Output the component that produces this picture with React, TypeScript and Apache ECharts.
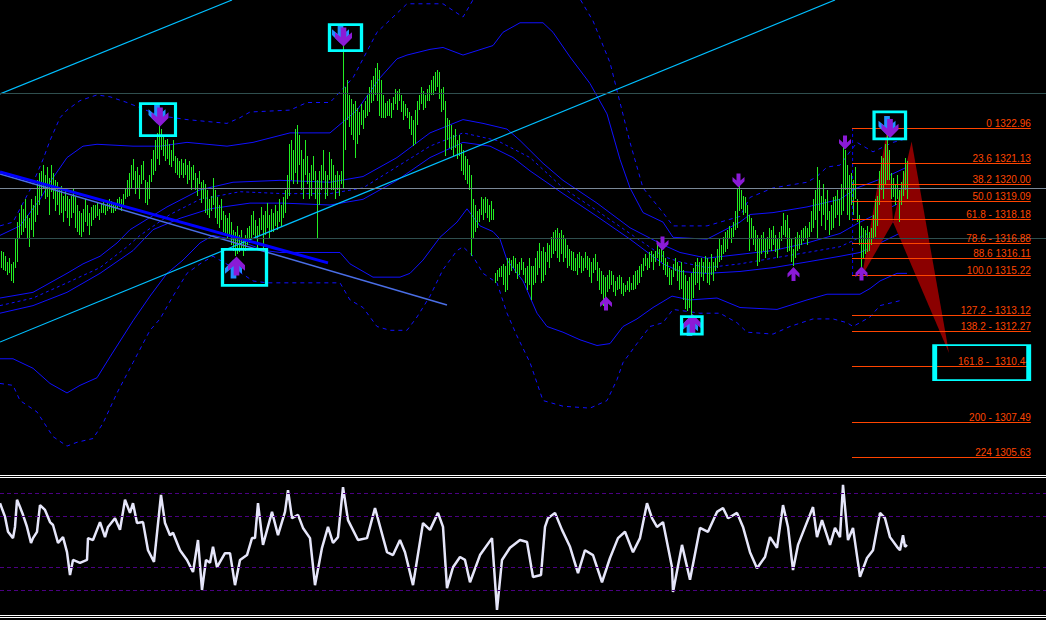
import React, { useEffect, useRef } from "react";
import * as echarts from "echarts";

// ---------- price bars (high / low per bar) ----------
const HIGH: number[] = [
  1316.5,1316.4,1316.2,1315.9,1316.1,1315.8,1315.9,1317.1,1318.0,1318.5,
  1318.9,1318.7,1319.2,1318.4,1318.2,1319.2,1318.9,1319.4,1320.2,1320.6,
  1320.7,1321.0,1320.5,1320.9,1320.3,1321.0,1320.6,1320.2,1320.1,1319.7,
  1319.9,1319.4,1319.8,1319.4,1319.2,1319.4,1319.8,1319.3,1318.9,1318.6,
  1318.5,1318.7,1319.2,1318.9,1318.5,1318.8,1318.9,1318.9,1319.0,1318.7,
  1319.0,1319.1,1318.9,1319.0,1319.2,1319.1,1318.9,1319.0,1319.2,1319.3,
  1319.2,1319.5,1319.8,1320.2,1320.6,1321.0,1321.3,1320.7,1320.9,1320.5,
  1321.0,1321.2,1320.2,1320.1,1320.5,1321.3,1321.8,1322.3,1322.7,1323.3,
  1322.9,1322.6,1322.3,1322.4,1322.1,1321.8,1322.3,1321.5,1321.4,1321.2,
  1321.3,1321.1,1321.3,1321.0,1321.2,1320.9,1321.0,1320.6,1320.3,1320.7,
  1320.1,1320.2,1320.0,1319.7,1319.2,1319.4,1320.3,1319.7,1319.3,1318.9,
  1319.2,1318.6,1318.4,1318.2,1318.5,1318.0,1317.6,1317.5,1317.8,1317.3,
  1317.6,1317.1,1317.3,1317.7,1317.8,1318.4,1318.6,1318.1,1317.8,1318.2,
  1318.8,1318.4,1318.6,1319.0,1318.4,1318.7,1318.5,1318.9,1318.6,1319.2,
  1318.9,1319.3,1319.7,1320.5,1322.1,1322.3,1321.8,1322.9,1323.1,1322.6,
  1321.8,1321.3,1322.3,1321.5,1320.6,1321.0,1321.5,1320.7,1320.2,1320.7,
  1321.0,1321.8,1320.7,1320.5,1321.7,1321.3,1321.0,1320.5,1320.7,1320.5,
  1320.7,1327.5,1325.1,1325.5,1324.7,1324.5,1324.2,1324.4,1324.0,1323.8,
  1324.2,1323.9,1324.4,1324.7,1325.1,1325.5,1325.7,1326.1,1326.4,1326.0,
  1325.5,1324.7,1324.3,1324.4,1324.5,1324.3,1324.6,1325.0,1324.9,1325.0,
  1324.7,1324.4,1324.2,1324.0,1323.8,1323.6,1323.4,1323.9,1324.4,1324.7,
  1325.1,1324.9,1324.7,1325.0,1325.2,1325.5,1325.7,1325.9,1326.0,1325.9,
  1325.0,1325.1,1324.4,1323.5,1323.4,1323.1,1322.6,1322.9,1322.3,1322.6,
  1322.1,1321.8,1321.5,1321.3,1321.0,1320.5,1319.2,1318.9,1318.6,1318.7,
  1319.3,1319.2,1319.3,1319.2,1318.9,1319.1,1318.7,1315.3,1315.5,1315.6,
  1315.7,1315.8,1315.7,1316.1,1316.1,1316.0,1316.2,1316.1,1315.8,1315.9,
  1316.1,1315.9,1315.6,1315.7,1316.1,1315.7,1315.7,1316.1,1316.5,1316.9,
  1316.5,1316.7,1316.4,1316.9,1316.8,1317.2,1317.5,1317.6,1317.7,1317.4,
  1317.6,1317.3,1317.1,1316.8,1316.6,1316.5,1316.4,1316.1,1316.3,1316.4,
  1316.2,1316.1,1316.4,1316.2,1316.1,1315.9,1316.1,1316.3,1315.9,1315.6,
  1315.4,1315.2,1315.1,1315.2,1315.5,1315.4,1315.2,1314.9,1315.1,1315.2,
  1315.1,1314.8,1314.7,1314.9,1315.1,1314.8,1315.2,1315.4,1315.5,1315.7,
  1315.8,1316.1,1316.3,1316.1,1316.4,1316.5,1316.3,1316.5,1316.8,1316.6,
  1316.7,1316.5,1316.1,1315.9,1315.6,1315.5,1315.8,1316.1,1315.9,1315.7,
  1315.9,1315.5,1315.2,1314.9,1315.1,1315.3,1315.6,1315.9,1316.1,1315.9,
  1316.1,1315.9,1316.2,1316.1,1315.9,1316.3,1315.9,1316.1,1316.6,1317.1,
  1316.8,1317.2,1317.5,1317.6,1317.8,1317.7,1318.0,1318.6,1319.8,1320.0,
  1319.7,1319.4,1319.3,1318.9,1318.4,1318.2,1317.8,1317.6,1317.3,1317.1,
  1317.3,1317.5,1317.1,1317.2,1317.7,1317.6,1317.8,1317.3,1317.1,1317.5,
  1317.8,1318.5,1318.1,1318.4,1317.7,1317.1,1316.6,1317.2,1317.5,1317.3,
  1317.6,1317.7,1317.8,1317.7,1318.0,1318.6,1319.2,1319.7,1320.9,1320.2,
  1319.4,1320.0,1319.2,1319.7,1318.6,1318.9,1319.3,1319.4,1319.7,1319.2,
  1320.0,1322.1,1321.8,1321.0,1320.5,1320.6,1320.2,1320.9,1319.2,1318.4,
  1317.8,1317.7,1317.6,1317.8,1317.5,1317.7,1318.4,1319.2,1319.4,1320.7,
  1321.5,1321.4,1322.1,1322.9,1321.8,1320.6,1320.3,1320.0,1320.5,1319.7,
  1320.1,1320.7,1321.4,1321.2,
];
const LOW: number[] = [
  1315.6,1315.5,1315.4,1315.2,1315.3,1314.9,1314.8,1315.6,1315.9,1317.1,
  1317.3,1317.5,1317.7,1317.1,1316.7,1317.6,1317.2,1318.0,1318.4,1318.9,
  1319.4,1319.8,1319.2,1319.3,1318.4,1319.6,1319.2,1318.6,1318.9,1318.4,
  1318.5,1318.0,1318.6,1318.2,1317.8,1318.2,1318.5,1317.7,1317.5,1317.3,
  1317.2,1317.5,1318.0,1317.8,1317.3,1317.8,1318.1,1318.2,1318.3,1318.1,
  1318.5,1318.5,1318.4,1318.6,1318.7,1318.5,1318.5,1318.6,1318.7,1318.8,
  1318.6,1318.9,1319.2,1319.3,1319.4,1319.8,1320.2,1319.5,1319.8,1319.2,
  1320.0,1320.2,1319.0,1318.9,1319.2,1320.1,1320.5,1320.7,1321.3,1321.0,
  1321.8,1321.5,1321.2,1321.3,1321.0,1320.9,1321.2,1320.6,1320.5,1320.3,
  1320.5,1320.3,1320.5,1320.0,1320.2,1319.7,1320.2,1319.7,1319.4,1320.0,
  1319.0,1319.2,1318.5,1318.4,1318.2,1318.6,1318.9,1318.2,1317.9,1317.7,
  1318.1,1317.5,1317.3,1317.1,1317.3,1316.8,1316.5,1316.2,1316.3,1316.4,
  1316.6,1316.2,1316.5,1316.8,1316.9,1317.1,1317.3,1317.1,1316.6,1317.3,
  1317.6,1316.4,1317.3,1317.7,1317.1,1317.5,1317.5,1317.8,1317.6,1318.0,
  1317.8,1318.2,1318.5,1319.2,1319.4,1320.2,1320.0,1320.6,1320.0,1321.0,
  1319.7,1319.2,1320.5,1320.0,1319.2,1319.4,1320.2,1319.2,1317.1,1318.9,
  1319.7,1320.2,1319.2,1319.4,1320.2,1319.7,1319.7,1319.2,1319.7,1319.4,
  1320.0,1319.8,1321.8,1323.4,1323.0,1322.6,1322.3,1321.4,1322.1,1322.6,
  1323.1,1322.9,1323.5,1323.6,1323.8,1324.3,1324.4,1324.7,1324.4,1323.6,
  1323.5,1323.5,1323.5,1323.6,1323.6,1323.5,1323.9,1324.2,1323.9,1324.4,
  1323.8,1323.4,1323.6,1323.5,1322.9,1322.6,1322.0,1322.1,1323.1,1323.9,
  1324.2,1323.9,1324.0,1324.4,1324.4,1324.7,1324.7,1324.9,1325.1,1324.5,
  1323.8,1323.9,1321.5,1322.3,1321.9,1321.8,1321.5,1321.9,1321.3,1321.5,
  1320.7,1320.5,1320.2,1320.0,1319.7,1316.2,1317.1,1317.5,1317.7,1318.0,
  1318.4,1318.1,1318.5,1318.2,1318.0,1318.1,1318.1,1314.8,1314.9,1315.1,
  1315.1,1314.7,1314.3,1314.4,1315.2,1315.4,1315.6,1315.3,1315.0,1315.2,
  1315.5,1315.2,1314.8,1314.4,1314.7,1313.9,1314.7,1314.8,1315.2,1315.6,
  1314.8,1314.9,1315.2,1315.9,1315.6,1316.1,1316.3,1316.5,1316.1,1315.9,
  1316.3,1315.9,1316.1,1315.6,1315.7,1315.5,1315.4,1315.4,1315.2,1315.6,
  1315.3,1315.4,1315.6,1315.5,1315.1,1314.8,1315.3,1315.5,1314.9,1314.4,
  1314.2,1313.6,1313.9,1314.3,1314.5,1314.7,1314.3,1314.1,1314.4,1314.5,
  1314.2,1314.1,1314.3,1314.4,1314.3,1314.4,1314.4,1314.5,1314.7,1314.8,
  1315.1,1315.4,1315.7,1315.5,1315.6,1315.9,1315.5,1315.9,1316.1,1315.7,
  1315.9,1315.5,1315.2,1315.1,1314.7,1314.7,1315.1,1315.4,1314.9,1314.4,
  1314.5,1313.9,1313.4,1313.3,1313.5,1312.8,1314.0,1314.7,1314.8,1314.4,
  1315.1,1314.9,1315.3,1314.8,1314.7,1315.2,1314.9,1315.4,1315.6,1315.9,
  1316.0,1316.3,1316.4,1316.6,1317.1,1316.9,1317.2,1317.6,1317.7,1318.6,
  1318.7,1318.4,1318.5,1318.0,1316.5,1317.1,1316.8,1316.5,1315.7,1315.9,
  1316.3,1316.5,1316.1,1316.3,1316.6,1316.5,1316.8,1316.4,1316.1,1316.6,
  1317.0,1317.3,1317.2,1316.4,1316.5,1315.9,1315.7,1316.1,1316.5,1316.6,
  1316.8,1317.0,1317.1,1316.8,1317.2,1317.5,1317.7,1318.1,1317.1,1318.6,
  1317.8,1318.4,1317.6,1318.1,1317.3,1317.6,1317.7,1318.2,1318.4,1317.8,
  1318.4,1318.6,1319.7,1318.4,1318.1,1318.9,1318.4,1319.2,1318.0,1316.8,
  1315.2,1316.1,1316.3,1316.4,1316.5,1316.8,1317.1,1317.2,1317.8,1318.9,
  1319.7,1319.2,1320.0,1320.2,1320.2,1319.2,1319.3,1318.9,1319.2,1318.0,
  1318.9,1319.4,1319.7,1319.2,
];

// ---------- envelope / band lines: [bar index, price] ----------
const BAND_OUTER_UP: number[][] = [[0,1317.8],[6.5,1318.0],[15,1319.7],[21.5,1321.3],[25,1322.3],[30,1323.5],[33.5,1323.9],[40,1324.4],[48.5,1324.7],[55,1324.6],[63.5,1324.3],[80,1323.6],[93.5,1323.4],[113.5,1323.2],[120,1323.5],[125,1323.8],[145,1323.9],[153.5,1324.3],[165,1324.3],[176.5,1325.6],[188.5,1328.0],[198.5,1329.0],[203.5,1329.5],[221.5,1329.5],[231.5,1328.8],[242.5,1330.8],[270,1331.8],[287.5,1330.2],[296.5,1328.6],[305,1326.4],[310,1324.3],[315,1322.2],[321.5,1319.8],[331.5,1318.5],[336.5,1317.8],[353.5,1317.8],[370,1318.3],[375,1319.3],[386.5,1319.8],[403.5,1320.1],[408.5,1320.4],[413.5,1320.9],[420,1321.0],[428.5,1322.2],[436.5,1321.7],[446.5,1322.2],[453.5,1322.4]];
const BAND_OUTER_DN: number[][] = [[0,1309.5],[6.5,1309.4],[10,1308.6],[18.5,1308.0],[26.5,1306.7],[33.5,1306.2],[38.5,1306.4],[46.5,1306.6],[51.5,1307.4],[58.5,1309.0],[66.5,1310.6],[75,1312.3],[80,1312.9],[86.5,1314.1],[93.5,1315.3],[100,1315.8],[106.5,1316.2],[116.5,1315.6],[126.5,1314.9],[133.5,1314.8],[150,1314.8],[170,1314.8],[175,1313.9],[181.5,1313.5],[188.5,1312.5],[195,1312.3],[203.5,1312.3],[208.5,1313.0],[215,1314.1],[221.5,1315.5],[228.5,1316.5],[231.5,1316.7],[236.5,1316.2],[241.5,1315.3],[248.5,1314.8],[253.5,1313.2],[258.5,1312.0],[265,1310.6],[271.5,1308.6],[281.5,1308.3],[295,1308.2],[303.5,1308.6],[308.5,1309.7],[311.5,1310.6],[318.5,1311.6],[325,1312.5],[331.5,1312.7],[336.5,1313.4],[350,1313.2],[360,1313.2],[368.5,1312.7],[373.5,1312.2],[386.5,1312.1],[395,1312.5],[406.5,1312.9],[416.5,1312.9],[423.5,1312.7],[426.5,1312.5],[435,1313.0],[440,1313.6],[451.5,1313.9]];
const BAND_MID_UP: number[][] = [[0,1317.3],[10,1317.8],[20,1319.2],[25,1320.1],[33.5,1321.4],[41.5,1322.0],[48.5,1322.1],[66.5,1322.0],[80,1322.0],[93.5,1322.2],[113.5,1322.0],[126.5,1322.2],[145,1322.7],[165,1322.7],[178.5,1323.9],[190,1325.6],[198.5,1326.6],[203.5,1326.8],[215,1327.1],[221.5,1327.2],[231.5,1326.8],[246.5,1327.3],[251.5,1328.0],[260,1328.5],[271.5,1328.5],[276.5,1328.0],[285,1326.7],[295,1325.3],[303.5,1323.7],[310,1321.3],[315,1319.8],[321.5,1318.5],[331.5,1318.0],[336.5,1317.2],[353.5,1317.1],[370,1318.0],[375,1318.4],[386.5,1318.5],[403.5,1318.8],[420,1319.2],[428.5,1319.8],[443.5,1320.4],[453.5,1320.9]];
const BAND_MID_DN: number[][] = [[0,1310.8],[6.5,1310.8],[16.5,1310.3],[25,1309.5],[33.5,1309.0],[40,1309.4],[48.5,1309.8],[55,1310.9],[66.5,1312.8],[75,1314.1],[83.5,1315.3],[91.5,1316.0],[100,1316.9],[106.5,1317.3],[120,1317.0],[132.5,1316.5],[140,1316.4],[170,1316.4],[175,1315.8],[186.5,1315.1],[200,1315.1],[205,1315.3],[211.5,1316.0],[220,1317.2],[228.5,1318.0],[233.5,1318.7],[240,1317.8],[246.5,1317.5],[250,1317.1],[253.5,1316.0],[261.5,1314.9],[268.5,1313.2],[273.5,1312.5],[281.5,1312.2],[290,1311.8],[298.5,1311.5],[305,1311.6],[311.5,1312.5],[318.5,1312.9],[326.5,1313.5],[336,1314.1],[345,1313.9],[358.5,1314.0],[370,1313.5],[388.5,1313.4],[403.5,1313.9],[413.5,1314.2],[430,1314.2],[435,1314.5],[440,1314.9],[448.5,1315.3],[453.5,1315.3]];
const BAND_IN_UP: number[][] = [[0,1314.0],[16.5,1314.3],[25,1314.8],[33.5,1315.3],[41.5,1315.8],[50,1316.2],[58.5,1316.9],[65,1317.6],[83.5,1318.8],[100,1319.7],[116.5,1320.1],[140,1320.2],[165,1320.1],[181.5,1320.4],[198.5,1321.4],[215,1322.7],[231.5,1323.4],[241.5,1323.2],[253.5,1322.9],[260,1322.3],[271.5,1321.1],[281.5,1320.2],[298.5,1319.0],[315,1317.7],[331.5,1316.8],[340,1316.4],[353.5,1316.1],[370,1316.3],[386.5,1316.5],[403.5,1316.9],[420,1317.4],[430,1318.0],[440,1318.5],[453.5,1319.2]];
const BAND_IN_MID: number[][] = [[0,1313.6],[16.5,1314.0],[33.5,1314.8],[50,1315.6],[63.5,1316.7],[70,1317.3],[85,1318.4],[100,1319.2],[120,1319.6],[141.5,1319.5],[165,1319.5],[181.5,1319.8],[215,1322.0],[231.5,1322.7],[248.5,1322.3],[265,1321.4],[281.5,1319.8],[298.5,1318.6],[315,1317.4],[331.5,1316.2],[340,1315.9],[353.5,1315.6],[370,1315.8],[386.5,1316.1],[403.5,1316.4],[420,1316.7],[430,1317.2],[440,1317.7],[453.5,1318.3]];
const BAND_IN_DN: number[][] = [[0,1313.2],[16.5,1313.6],[33.5,1314.3],[50,1315.3],[66.5,1316.5],[76.5,1317.6],[90,1318.2],[105,1318.7],[125,1319.0],[141.5,1319.0],[165,1318.9],[181.5,1319.2],[198.5,1320.2],[215,1321.4],[231.5,1322.2],[245,1322.0],[256.5,1321.4],[265,1320.7],[281.5,1319.5],[298.5,1318.3],[315,1317.1],[331.5,1315.8],[340,1315.4],[353.5,1315.3],[370,1315.4],[386.5,1315.6],[403.5,1315.9],[420,1316.2],[430,1316.4],[440,1316.9],[453.5,1317.6]];

// ---------- drawn objects ----------
const CHANNEL_UPPER: number[][] = [[0, 1324.75], [116, 1329.7]];
const CHANNEL_LOWER: number[][] = [[0, 1311.68], [417.5, 1329.7]];
const TREND_THICK: number[][] = [[0, 1320.64], [164, 1315.85]];
const TREND_THIN: number[][] = [[0, 1320.54], [223.5, 1313.63]];
const H_LEVELS: number[] = [1324.8, 1319.8, 1317.16];
const H_COLORS: string[] = ["#2f4f4f", "#7a8898", "#2f4f4f"];

const FIB_RATIO: string[] = ["0", "23.6", "38.2", "50.0", "61.8", "78.6", "88.6", "100.0", "127.2", "138.2", "161.8", "200", "224"];
const FIB_SEP: string[] = [" ", " ", " ", " ", " - ", " - ", " ", " ", " - ", " - ", " -  ", " - ", " "];
const FIB_PRICE: number[] = [1322.96, 1321.13, 1320.0, 1319.09, 1318.18, 1316.88, 1316.11, 1315.22, 1313.12, 1312.27, 1310.44, 1307.49, 1305.63];
const FIB_START = 426;
const FIB_END = 515.4;
const FIB_ANCHOR: number[][] = [[426.3, 1322.96], [426.3, 1315.22]];

const PATTERN_IDX: number[] = [431, 443.5, 446.5, 455.8, 474.5];
const PATTERN_PRICE: number[] = [1315.16, 1322.85, 1318.0, 1322.24, 1311.1];

const SIGNAL_BIG_DOWN: number[][] = [[79.5, 1323.59], [171.25, 1327.8], [444.5, 1322.98]];
const SIGNAL_BIG_UP: number[][] = [[117.75, 1315.63], [345.75, 1312.6]];
const SIGNAL_DOWN: number[][] = [[369.25, 1320.19], [422.5, 1322.19], [331.25, 1316.87]];
const SIGNAL_UP: number[][] = [[303, 1313.71], [396.75, 1315.26], [430.75, 1315.29]];

const BOX_CENTER: number[][] = [[172.75, 1327.72], [79, 1323.4], [122.25, 1315.61], [345.9, 1312.56], [444.9, 1323.09], [490.85, 1310.6]];
const BOX_SIZE: number[][] = [[32, 26], [35, 32], [44, 36], [20.5, 17.5], [31.5, 27], [94, 35]];

// ---------- oscillator: [bar index, value] ----------
const OSC: number[][] = [[0,79],[2.5,51],[4,20],[6.5,7],[7.5,30],[8.5,86],[10,71],[11.5,55],[13.5,30],[15.5,-3],[16.5,7],[18.5,20],[20,75],[22.5,65],[25,40],[26.5,34],[29,-3],[31.5,9],[33.5,-22],[35,-69],[36.5,-38],[40,-44],[43.5,-38],[44,7],[46.5,3],[50,40],[52.5,9],[54,30],[57.5,48],[60,24],[62.5,86],[65,59],[66.5,79],[68.5,38],[71.5,40],[74,-18],[77,-42],[80.5,96],[82.5,38],[85,13],[86.5,18],[90,-18],[93.5,-38],[96.5,-63],[99,3],[101,-100],[103,-38],[105,-44],[106.5,-11],[108.5,-53],[112.5,-24],[115,-24],[117.5,-90],[120,-38],[123.5,-28],[126,7],[127.5,7],[129,79],[131.5,-7],[136,61],[139,13],[142.5,61],[144,106],[146,48],[149,55],[151.5,28],[155,7],[157.5,-90],[161,-13],[164,30],[166.5,-3],[169,9],[171.5,112],[174,44],[179,3],[183.5,7],[187.5,69],[193.5,-22],[196.5,-28],[200,3],[202.5,-22],[206.5,-90],[211.5,38],[215,24],[219,59],[221.5,30],[223.5,-96],[226.5,-53],[230,-32],[232.5,-38],[235,-84],[240,-28],[246,7],[248.5,-141],[251,-38],[255,-13],[260,3],[263.5,-1],[266.5,-73],[270.5,-69],[272.5,30],[274,48],[277.5,59],[281,24],[285,-11],[289,-65],[292.5,-18],[296.5,-28],[301,-84],[305,-34],[309,7],[312.5,20],[316.5,-22],[320,7],[323.5,79],[326,48],[328.5,30],[331.5,40],[336,-53],[336.5,-104],[341,-7],[345,-79],[350,28],[354,20],[358.5,61],[361.5,69],[364,48],[368.5,59],[371.5,30],[375,-22],[378.5,-55],[382.5,-32],[385,9],[388.5,-13],[391.5,75],[394,30],[396.5,-59],[399,-7],[403.5,40],[406.5,71],[408.5,9],[411,44],[415,-7],[417.5,28],[420,9],[421.5,117],[424,3],[426.5,28],[430,-73],[433.5,-34],[436.5,-18],[440,59],[442.5,48],[445,9],[448.5,-11],[450,-18],[451.5,13],[452.5,-11],[453.5,-7]];
const OSC_LEVELS: number[] = [100, 53, -53, -100];

const DOWN_PATH = "path://M7,0L13,0L13,10L19,5L19,11L10,20L1,11L1,5L7,10Z";
const UP_PATH = "path://M10,0L19,9L19,15L13,10L13,20L7,20L7,10L1,15L1,9Z";

const BAR_COLOR = "#22ee22";

function buildOption() {
  const mainLine = (data: number[][], color: string, width: number, type: any, z: number, extra: any = {}) => ({
    type: "line",
    xAxisIndex: 0,
    yAxisIndex: 0,
    data,
    symbol: "none",
    silent: true,
    z,
    lineStyle: { color, width, type },
    ...extra,
  });
  const blue = "#1010ff";
  const arrow = (data: number[][], symbol: string, size: number[], color: string, offset: number[], z: number) => ({
    type: "scatter",
    xAxisIndex: 0,
    yAxisIndex: 0,
    data,
    symbol,
    symbolSize: size,
    symbolOffset: offset,
    itemStyle: { color, opacity: 1 },
    silent: true,
    z,
  });

  return {
    animation: false,
    backgroundColor: "#000000",
    grid: [
      { left: 0, right: 0, top: 0, height: 474 },
      { left: 0, right: 0, top: 478, height: 137 },
    ],
    xAxis: [
      { type: "value", gridIndex: 0, min: 0, max: 523, show: false },
      { type: "value", gridIndex: 1, min: 0, max: 523, show: false },
    ],
    yAxis: [
      { type: "value", gridIndex: 0, min: 1304.73, max: 1329.7, show: false },
      { type: "value", gridIndex: 1, min: -151.5, max: 130.9, show: false },
    ],
    graphic: [
      { type: "line", shape: { x1: 0, y1: 475.5, x2: 1046, y2: 475.5 }, style: { stroke: "#ffffff", lineWidth: 1 }, silent: true },
      { type: "line", shape: { x1: 0, y1: 477.5, x2: 1046, y2: 477.5 }, style: { stroke: "#ffffff", lineWidth: 1 }, silent: true },
      { type: "line", shape: { x1: 0, y1: 615.5, x2: 1046, y2: 615.5 }, style: { stroke: "#ffffff", lineWidth: 1 }, silent: true },
      { type: "line", shape: { x1: 0, y1: 617.5, x2: 1046, y2: 617.5 }, style: { stroke: "#ffffff", lineWidth: 1 }, silent: true },
    ],
    series: [
      mainLine(BAND_OUTER_UP, blue, 1, [4, 4], 1),
      mainLine(BAND_OUTER_DN, blue, 1, [4, 4], 1),
      mainLine(BAND_MID_UP, blue, 1, "solid", 1, {
        markLine: {
          silent: true,
          symbol: "none",
          label: { show: false },
          data: H_LEVELS.map((p, k) => ({ yAxis: p, lineStyle: { color: H_COLORS[k], width: 1, type: "solid" } })),
        },
      }),
      mainLine(BAND_MID_DN, blue, 1, "solid", 1),
      mainLine(BAND_IN_UP, blue, 1, "solid", 1),
      mainLine(BAND_IN_MID, blue, 1, [3, 3], 1),
      mainLine(BAND_IN_DN, blue, 1, "solid", 1),
      {
        type: "custom",
        xAxisIndex: 0,
        yAxisIndex: 0,
        silent: true,
        z: 2,
        data: [[0, 1, 2], [2, 3, 4]],
        renderItem: (_p: any, api: any) => {
          const ids = [api.value(0), api.value(1), api.value(2)];
          const pts = ids.map((j: number) => api.coord([PATTERN_IDX[j], PATTERN_PRICE[j]]));
          return { type: "polygon", shape: { points: pts }, style: { fill: "#8b0000" } };
        },
      },
      // price bars: one item whose element is a group of 1px high-low strokes
      {
        type: "custom",
        xAxisIndex: 0,
        yAxisIndex: 0,
        silent: true,
        z: 3,
        data: [[0, HIGH[0]]],
        renderItem: (_p: any, api: any) => {
          const children = HIGH.map((h, i) => {
            const top = api.coord([i + 0.5, h]);
            const bot = api.coord([i + 0.5, LOW[i]]);
            const px = Math.floor(top[0] + 0.01);
            const y0 = Math.round(top[1]);
            const y1 = Math.max(Math.round(bot[1]), y0 + 1);
            return {
              type: "rect",
              shape: { x: px, y: y0, width: 1, height: y1 - y0 },
              style: { fill: BAR_COLOR },
            };
          });
          return { type: "group", children };
        },
      },
      mainLine(CHANNEL_UPPER, "#00bfff", 1.2, "solid", 4),
      mainLine(CHANNEL_LOWER, "#00bfff", 1.2, "solid", 4),
      mainLine(TREND_THIN, "#4a6ee6", 1.5, "solid", 4),
      mainLine(TREND_THICK, "#0000ff", 3, "solid", 4),
      mainLine(FIB_ANCHOR, "#0000ff", 1, [3, 3], 4),
      {
        type: "custom",
        xAxisIndex: 0,
        yAxisIndex: 0,
        silent: true,
        z: 5,
        data: FIB_PRICE.map((p, k) => [FIB_START, p, k]),
        encode: { x: 0, y: 1 },
        renderItem: (_p: any, api: any) => {
          const p = api.value(1);
          const k = api.value(2);
          const a = api.coord([FIB_START, p]);
          const b = api.coord([FIB_END, p]);
          const y = Math.round(a[1]) + 0.5;
          return {
            type: "group",
            children: [
              { type: "line", shape: { x1: a[0], y1: y, x2: b[0], y2: y }, style: { stroke: "#ff4500", lineWidth: 1 } },
              {
                type: "text",
                style: {
                  text: FIB_RATIO[k] + FIB_SEP[k] + FIB_PRICE[k].toFixed(2),
                  x: b[0],
                  y: y - 0.5,
                  fill: "#ff4500",
                  font: '10px "Liberation Sans Narrow", "Liberation Sans", Arial, sans-serif',
                  align: "right",
                  verticalAlign: "bottom",
                },
              },
            ],
          };
        },
      },
      arrow(SIGNAL_BIG_DOWN, DOWN_PATH, [17, 19], "#1e90ff", [-2, -2], 6),
      arrow(SIGNAL_BIG_DOWN, DOWN_PATH, [17, 19], "#8b1ad6", [1, 1], 6),
      arrow(SIGNAL_BIG_UP, UP_PATH, [17, 19], "#1e90ff", [-2, 2], 6),
      arrow(SIGNAL_BIG_UP, UP_PATH, [17, 19], "#8b1ad6", [1, -1], 6),
      arrow(SIGNAL_DOWN, DOWN_PATH, [12, 14], "#8b1ad6", [0, 0], 6),
      arrow(SIGNAL_UP, UP_PATH, [12, 14], "#8b1ad6", [0, 0], 6),
      {
        type: "scatter",
        xAxisIndex: 0,
        yAxisIndex: 0,
        silent: true,
        z: 7,
        symbol: "rect",
        data: BOX_CENTER.map((c, k) => ({ value: c, symbolSize: BOX_SIZE[k] })),
        itemStyle: { color: "rgba(0,0,0,0)", borderColor: "#00ffff", borderWidth: 3, opacity: 1 },
      },
      {
        type: "line",
        xAxisIndex: 1,
        yAxisIndex: 1,
        data: OSC,
        symbol: "none",
        silent: true,
        z: 3,
        lineStyle: { color: "#e6e6fa", width: 2.5 },
        markLine: {
          silent: true,
          symbol: "none",
          label: { show: false },
          lineStyle: { color: "#4b0082", width: 1, type: [4, 3] },
          data: OSC_LEVELS.map((v) => ({ yAxis: v })),
        },
      },
    ],
  };
}

export default function App() {
  const ref = useRef<HTMLDivElement>(null);
  useEffect(() => {
    document.body.style.margin = "0";
    document.body.style.background = "#000";
    const chart = echarts.init(ref.current as HTMLDivElement, null, { renderer: "svg" });
    chart.setOption(buildOption() as any);
    return () => chart.dispose();
  }, []);
  return <div ref={ref} style={{ width: 1046, height: 620, background: "#000" }} />;
}
